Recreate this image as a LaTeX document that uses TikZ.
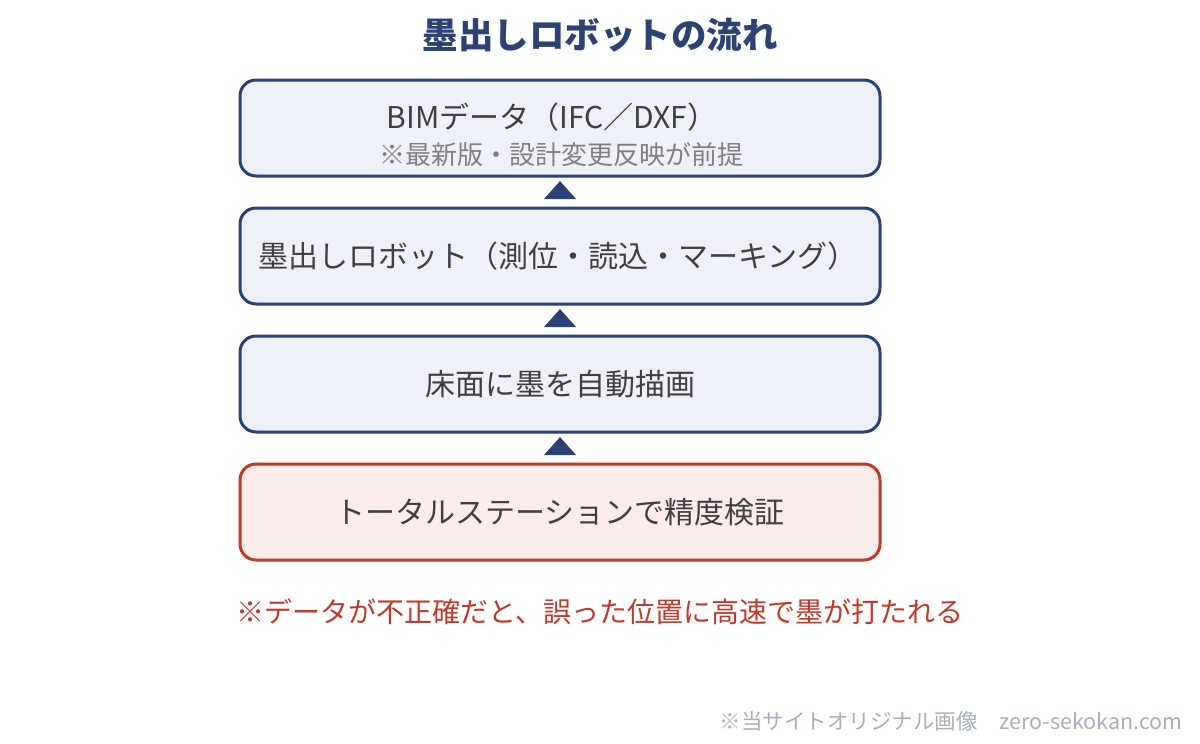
\documentclass[tikz,border=0pt]{standalone}
\usepackage{fontspec}
\setmainfont{Noto Sans CJK JP}
\usetikzlibrary{calc}
\definecolor{navy}{HTML}{2C4274}
\definecolor{bluefill}{HTML}{EEF2F8}
\definecolor{redline}{HTML}{C0392B}
\definecolor{redfill}{HTML}{FBECEC}
\definecolor{maintext}{HTML}{404040}
\definecolor{subtext}{HTML}{808080}
\definecolor{marktext}{HTML}{A9B0BB}
\tikzset{
  stepbox/.style={draw=navy, fill=bluefill, line width=3pt, rounded corners=16pt,
    minimum width=640pt, minimum height=96pt, outer sep=0pt, inner sep=0pt},
  checkbox/.style={stepbox, draw=redline, fill=redfill},
  boxtext/.style={text=maintext, inner sep=0pt, font=\fontsize{30}{35}\selectfont},
  uptri/.style={fill=navy},
}
\begin{document}
\begin{tikzpicture}[x=1pt,y=-1pt]
\useasboundingbox (0,0) rectangle (1200,744);
\node[text=navy, inner sep=0pt, font=\fontsize{35.5}{40}\selectfont\bfseries] (title) at (600,35) {墨出しロボットの流れ};
\node[stepbox] (b1) at (560,128) {};
\node[stepbox] (b2) at (560,256) {};
\node[stepbox] (b3) at (560,384) {};
\node[checkbox] (b4) at (560,512) {};
\node[boxtext, font=\fontsize{30}{35}\selectfont] (t1) at (552,117) {BIMデータ（IFC／DXF）};
\node[text=subtext, inner sep=0pt, font=\fontsize{26}{30}\selectfont] (t1s) at (561,155) {※最新版・設計変更反映が前提};
\node[boxtext] (t2) at (558,256) {墨出しロボット（測位・読込・マーキング）};
\node[boxtext] (t3) at (560,384) {床面に墨を自動描画};
\node[boxtext] (t4) at (560,512) {トータルステーションで精度検証};
\fill[uptri] ($(b2.north)+(-16,-9)$) -- ($(b2.north)+(16,-9)$) -- ($(b1.south)+(0,5)$) -- cycle;
\fill[uptri] ($(b3.north)+(-16,-9)$) -- ($(b3.north)+(16,-9)$) -- ($(b2.south)+(0,5)$) -- cycle;
\fill[uptri] ($(b4.north)+(-16,-9)$) -- ($(b4.north)+(16,-9)$) -- ($(b3.south)+(0,5)$) -- cycle;
\node[text=redline, inner sep=0pt, font=\fontsize{28}{33}\selectfont] (note) at (600,612) {※データが不正確だと、誤った位置に高速で墨が打たれる};
\node[text=marktext, inner sep=0pt, anchor=east, font=\fontsize{21.5}{25}\selectfont] (mark) at (1183,721) {※当サイトオリジナル画像\hspace{22pt}zero-sekokan.com};
\end{tikzpicture}
\end{document}
